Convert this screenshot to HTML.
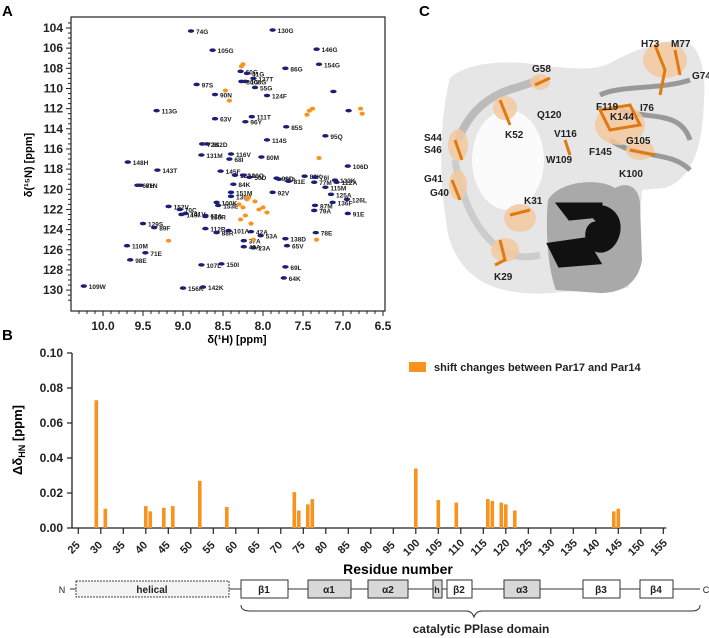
<!DOCTYPE html>
<html><head><meta charset="utf-8">
<style>
body{margin:0;background:#fff;}
svg{display:block;font-family:"Liberation Sans",Arial,sans-serif;}
</style></head>
<body>
<svg id="fig" width="709" height="638" viewBox="0 0 709 638">
<rect width="709" height="638" fill="#fff"/>
<!-- Panel labels -->
<text x="2" y="16" font-size="15" font-weight="bold">A</text>
<text x="2" y="340" font-size="15" font-weight="bold">B</text>
<text x="419" y="16" font-size="15" font-weight="bold">C</text>

<!-- Panel A -->
<g id="nmr">
<rect x="71" y="17" width="314" height="294" fill="none" stroke="#222" stroke-width="1.2"/>
<g id="nmrTicks"></g>
<g id="nmrPeaks"></g>
<text x="237" y="343" font-size="11" font-weight="bold" text-anchor="middle">δ(¹H) [ppm]</text>
<text transform="translate(32,165) rotate(-90)" font-size="11" font-weight="bold" text-anchor="middle">δ(¹⁵N) [ppm]</text>
</g>

<!-- Panel C -->
<g>
<path d="M450,78 C470,60 515,60 545,66 C570,68 595,72 612,62 C630,52 655,42 680,40 C700,42 706,70 704,100 C703,140 695,178 665,188 L642,190 C640,220 640,265 628,288 L560,292 C535,296 505,292 492,286 C465,276 448,250 446,220 C440,185 438,125 450,78 Z" fill="#e6e6e6"/>
<ellipse cx="508" cy="160" rx="36" ry="50" fill="#fbfbfb"/>
<path d="M548,200 C560,180 600,178 615,188 C630,180 640,190 640,205 L642,260 C638,285 620,293 600,293 L556,290 C548,270 545,230 548,200 Z" fill="#a9a9a9"/>
<path d="M560,205 L600,205 L600,215 L570,218 Z M585,210 C610,200 625,220 615,240 C605,258 585,250 588,232 C590,220 605,222 606,232 M550,245 L585,240 L598,262 L560,265 Z" fill="#111" stroke="#111" stroke-width="5"/>
<path d="M458,140 C470,110 490,95 515,88 L540,80" fill="none" stroke="#bbb" stroke-width="8"/>
<path d="M455,160 C460,190 470,220 490,240 C505,255 520,260 540,255" fill="none" stroke="#ccc" stroke-width="7"/>
<path d="M600,95 C620,85 660,90 690,80 M620,110 C650,120 680,110 690,140 M610,140 C640,160 670,150 690,170" fill="none" stroke="#999" stroke-width="5"/>
<g fill="#f3c9a0" opacity="0.85">
<ellipse cx="665" cy="60" rx="22" ry="18"/><ellipse cx="540" cy="82" rx="10" ry="8"/><ellipse cx="505" cy="108" rx="12" ry="12"/>
<ellipse cx="458" cy="145" rx="10" ry="16"/><ellipse cx="458" cy="185" rx="9" ry="15"/><ellipse cx="520" cy="218" rx="16" ry="14"/>
<ellipse cx="505" cy="250" rx="14" ry="12"/><ellipse cx="620" cy="125" rx="25" ry="20"/><ellipse cx="640" cy="150" rx="14" ry="10"/>
</g>
<g fill="none" stroke="#e07a10" stroke-width="3">
<path d="M655,45 L665,70 L660,95 M675,50 L680,75"/><path d="M535,85 L550,78"/><path d="M500,100 L510,125"/>
<path d="M455,140 L462,160"/><path d="M452,180 L460,200"/><path d="M510,215 L530,210"/><path d="M500,240 L505,260 L495,265"/>
<path d="M600,110 L630,105 L640,125 L610,130 Z"/><path d="M630,150 L655,155"/><path d="M565,140 L570,155"/>
</g>
<g font-size="10" font-weight="bold" fill="#222">
<text x="641" y="47">H73</text><text x="671" y="47">M77</text><text x="692" y="79">G74</text><text x="532" y="72">G58</text>
<text x="596" y="110">F119</text><text x="640" y="111">I76</text><text x="537" y="118">Q120</text><text x="610" y="120">K144</text>
<text x="505" y="138">K52</text><text x="554" y="137">V116</text><text x="424" y="141">S44</text><text x="424" y="153">S46</text>
<text x="626" y="144">G105</text><text x="589" y="155">F145</text><text x="546" y="163">W109</text><text x="619" y="177">K100</text>
<text x="424" y="182">G41</text><text x="430" y="196">G40</text><text x="524" y="204">K31</text><text x="494" y="280">K29</text>
</g>
</g>

<!-- Panel B -->
<g id="bars"></g>
<text transform="translate(22,440) rotate(-90)" font-size="13" font-weight="bold" text-anchor="middle">Δδ<tspan font-size="9" dy="3">HN</tspan><tspan dy="-3"> [ppm]</tspan></text>
<text x="398" y="574" font-size="14" font-weight="bold" text-anchor="middle">Residue number</text>
<rect x="409" y="362" width="17" height="10" fill="#f7931e"/>
<text x="434" y="371" font-size="11" font-weight="bold" fill="#222">shift changes between Par17 and Par14</text>

<!-- Domain diagram -->
<g font-size="10" font-weight="bold" fill="#222">
<line x1="70" y1="589" x2="700" y2="589" stroke="#333" stroke-width="1"/>
<text x="62" y="593" font-size="9" text-anchor="middle" font-weight="normal">N</text>
<text x="706" y="593" font-size="9" text-anchor="middle" font-weight="normal">C</text>
<rect x="76" y="581" width="153" height="16" fill="#f3f3f3" stroke="#444" stroke-dasharray="2,1"/>
<text x="152" y="593" text-anchor="middle">helical</text>
<rect x="241" y="580" width="47" height="18" fill="#fff" stroke="#333"/><text x="264" y="593" text-anchor="middle">β1</text>
<rect x="308" y="580" width="43" height="18" fill="#d8d8d8" stroke="#333"/><text x="329" y="593" text-anchor="middle">α1</text>
<rect x="368" y="580" width="40" height="18" fill="#d8d8d8" stroke="#333"/><text x="388" y="593" text-anchor="middle">α2</text>
<rect x="433" y="580" width="9" height="18" fill="#d8d8d8" stroke="#333"/><text x="437" y="593" text-anchor="middle" font-size="9">h</text>
<rect x="447" y="580" width="25" height="18" fill="#fff" stroke="#333"/><text x="459" y="593" text-anchor="middle">β2</text>
<rect x="504" y="580" width="36" height="18" fill="#d8d8d8" stroke="#333"/><text x="522" y="593" text-anchor="middle">α3</text>
<rect x="583" y="580" width="37" height="18" fill="#fff" stroke="#333"/><text x="601" y="593" text-anchor="middle">β3</text>
<rect x="640" y="580" width="33" height="18" fill="#fff" stroke="#333"/><text x="656" y="593" text-anchor="middle">β4</text>
<path d="M241,605 Q241,611 250,611 L466,611 Q472,611 474,617 Q476,611 482,611 L692,611 Q700,611 700,605" fill="none" stroke="#333"/>
<text x="481" y="633" text-anchor="middle" font-size="12">catalytic PPlase domain</text>
</g>
</svg>
<script>
const NS="http://www.w3.org/2000/svg";
// ---- Bar chart data ----
const residues=[29,31,40,41,44,46,52,58,73,74,76,77,100,105,109,116,117,119,120,122,144,145];
const shifts=[0.073,0.011,0.0125,0.0095,0.0115,0.0125,0.027,0.012,0.0205,0.010,0.0135,0.0165,0.034,0.016,0.0145,0.0165,0.0155,0.0145,0.0135,0.010,0.0095,0.011];
const yTicks=[0,0.02,0.04,0.06,0.08,0.10];
const xTicks=[25,30,35,40,45,50,55,60,65,70,75,80,85,90,95,100,105,110,115,120,125,130,135,140,145,150,155];
// ---- NMR data ----
const peakLabels=["74G","130G","105G","146G","154G","86G","60G","41G","137T","108G","30G","97S","90N","55G","124F","113G","63V","111T","96Y","85S","95Q","114S","132D","72K","131M","116V","68I","80M","148H","143T","106D","145F","123A","120Q","50D","99D","94A","82K","76I","133K","122A","81E","115M","77M","61N","67H","84K","151M","135V","92V","125A","126L","100K","152V","70C","149I","141V","62A","153E","136F","87M","79A","91E","129S","89F","155R","112R","88R","101A","42A","53A","138D","78E","110M","37A","23A","49A","65V","98E","71E","107L","150I","69L","64K","156K","142K","109W","",""];
const peakH=[8.90,7.88,8.63,7.33,7.30,7.72,8.28,8.20,8.12,8.22,8.27,8.83,8.60,8.10,7.95,9.33,8.60,8.14,8.22,7.71,7.22,7.95,8.70,8.76,8.77,8.40,8.42,8.02,9.69,9.32,6.94,8.53,8.35,8.25,8.17,7.83,7.80,7.48,7.35,7.10,7.08,7.68,7.22,7.36,9.53,9.57,8.37,8.40,8.40,7.88,7.15,6.95,8.58,9.18,9.04,9.02,8.97,8.72,8.56,7.13,7.35,7.36,6.94,9.50,9.36,8.72,8.72,8.58,8.43,8.15,8.03,7.72,7.34,9.70,8.24,8.12,8.24,7.70,9.66,9.47,8.77,8.52,7.72,7.74,9.00,8.75,10.24,7.12,6.93];
const peakN=[104.3,104.2,106.2,106.1,107.6,108.0,108.3,108.5,109.0,109.3,109.3,109.6,110.6,109.9,110.7,112.2,113.0,112.8,113.3,113.8,114.7,115.1,115.5,115.5,116.6,116.5,117.0,116.8,117.3,118.1,117.7,118.2,118.6,118.6,118.8,118.9,119.0,118.7,118.8,119.1,119.3,119.2,119.8,119.3,119.6,119.6,119.5,120.3,120.7,120.3,120.5,121.0,121.3,121.7,122.0,122.5,122.4,122.6,121.6,121.3,121.6,122.1,122.4,123.4,123.8,122.7,123.9,124.3,124.1,124.2,124.6,124.9,124.3,125.6,125.1,125.8,125.7,125.6,127.0,126.3,127.5,127.4,127.7,128.8,129.8,129.7,129.6,110.3,112.2];
const orangeH=[8.27,8.25,8.47,8.42,7.42,7.38,7.45,6.78,6.76,8.20,8.25,8.10,8.05,8.22,8.28,8.15,8.00,7.95,8.30,8.18,7.30,9.18,8.12,7.33];
const orangeN=[107.8,107.6,110.2,111.2,112.2,112.0,112.6,112.0,112.5,121.0,121.8,121.2,122.0,122.6,123.0,123.4,121.8,122.3,121.5,120.8,116.9,125.1,125.0,125.0];
const nmrXTicks=[10.0,9.5,9.0,8.5,8.0,7.5,7.0,6.5];
const nmrYTicks=[104,106,108,110,112,114,116,118,120,122,124,126,128,130];

// ---- scales ----
const bx=r=>78.3+(r-25)*4.5;
const by=v=>528-v*1750;
const hx=p=>103+(10-p)*80;
const ny=n=>28+(n-104)*10.08;

function mk(tag,attrs,parent){const e=document.createElementNS(NS,tag);for(const k in attrs)e.setAttribute(k,attrs[k]);parent.appendChild(e);return e;}

// Bar chart
const g=document.getElementById('bars');
const yAxis=mk('line',{x1:72,y1:by(0.10),x2:72,y2:by(0),stroke:'#222','stroke-width':1.3},g);


const xAxis=mk('line',{x1:72,y1:by(0),x2:bx(155)+3,y2:by(0),stroke:'#222','stroke-width':1.3},g);


yTicks.forEach(v=>{
  const t=mk('line',{x1:67,y1:by(v),x2:72,y2:by(v),stroke:'#222','stroke-width':1.2},g);
  
  
  const l=mk('text',{x:63,y:by(v)+4,'font-size':12,'font-weight':'bold','text-anchor':'end',fill:'#222'},g);
  l.textContent=v.toFixed(2);
  
  
});
xTicks.forEach(r=>{
  const t=mk('line',{x1:bx(r),y1:by(0),x2:bx(r),y2:by(0)+6,stroke:'#222','stroke-width':1.2},g);
  
  
  const l=mk('text',{x:0,y:0,'font-size':11,'font-weight':'bold','text-anchor':'middle',fill:'#222',transform:`translate(${bx(r)-2},${by(0)+22}) rotate(-45)`},g);
  l.textContent=r;
  
  
});
residues.forEach((r,i)=>{
  const b=mk('rect',{x:bx(r)-1.8,y:by(shifts[i]),width:3.6,height:by(0)-by(shifts[i]),fill:'#f7931e'},g);
  
  
});

// NMR ticks
const tg=document.getElementById('nmrTicks');
for(let p=10.3;p>=6.5;p-=0.1){const m=Math.abs((p*10)%5)<0.01||Math.abs((p*10)%5-5)<0.01;
  mk('line',{x1:hx(p),y1:311,x2:hx(p),y2:311+(m?5:3),stroke:'#222','stroke-width':1},tg);}
nmrXTicks.forEach(p=>{
  const l=mk('text',{x:hx(p),y:330,'font-size':12,'font-weight':'bold','text-anchor':'middle',fill:'#222'},tg);
  l.textContent=p.toFixed(1);
  
  
});
for(let n=103.5;n<=131;n+=0.5){const m=Math.abs(n%2)<0.01;
  mk('line',{x1:71-(m?5:3),y1:ny(n),x2:71,y2:ny(n),stroke:'#222','stroke-width':1},tg);}
nmrYTicks.forEach(n=>{
  const l=mk('text',{x:63,y:ny(n)+4,'font-size':12,'font-weight':'bold','text-anchor':'end',fill:'#222'},tg);
  l.textContent=n;
  
  
});
// NMR peaks
const pg=document.getElementById('nmrPeaks');
peakH.forEach((h,i)=>{
  const e=mk('ellipse',{cx:hx(h),cy:ny(peakN[i]),rx:3.2,ry:1.8,fill:'#1c1f73'},pg);
  
  
  if(peakLabels[i]){
    const l=mk('text',{x:hx(h)+5,y:ny(peakN[i])+3,'font-size':6.5,'font-weight':'bold',fill:'#222'},pg);
    l.textContent=peakLabels[i];
    
    
  }
});
orangeH.forEach((h,i)=>{
  const e=mk('ellipse',{cx:hx(h),cy:ny(orangeN[i]),rx:2.6,ry:2,fill:'#f7931e'},pg);
  
  
});
</script>
</body></html>
